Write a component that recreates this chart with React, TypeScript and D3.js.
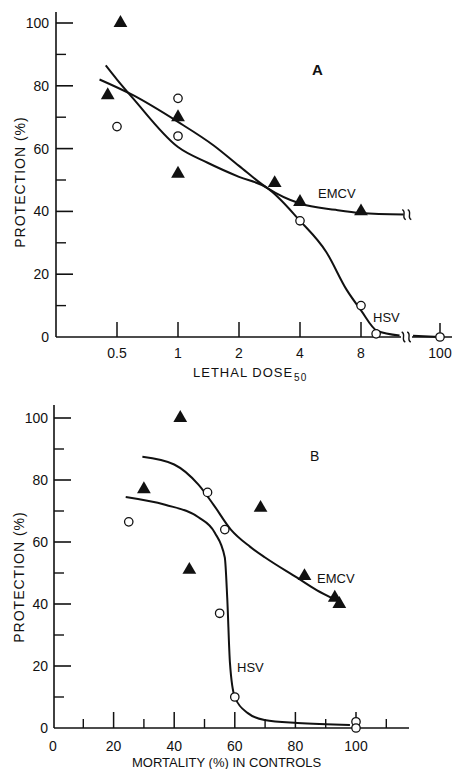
import React from 'react';
import * as d3 from 'd3';

// ---------- Panel A data ----------
const aYTicks = [0, 20, 40, 60, 80, 100];
const aYMinor = [10, 30, 50, 70, 90];
const aXTicks = [0.5, 1, 2, 4, 8];
const aXTickLabels = ['0.5', '1', '2', '4', '8'];
const aXBreakTick = 100;
const aXBreakLabel = '100';

const aEmcvDose = [0.45, 0.52, 1, 1, 3, 4, 8];
const aEmcvProt = [77, 100, 70, 52, 49, 43, 40];
const aHsvDose = [0.5, 1, 1, 4, 8, 9.5, 100];
const aHsvProt = [67, 76, 64, 37, 10, 1, 0];

const aEmcvFitDose = [0.41, 0.6, 1, 1.5, 2, 2.75, 4, 6, 8, 13];
const aEmcvFitProt = [82, 77, 68.5, 61, 54.5, 47.5, 42.5, 40.5, 39.5, 39];
const aHsvFitDose = [0.44, 0.5, 0.6, 1, 1.4, 2, 2.75, 4, 5.4, 6.8, 8, 9.6, 12.4];
const aHsvFitProt = [86.5, 82, 76, 60.5, 55.5, 51, 47.5, 37, 27, 15, 8.5, 2, 0.5];
const aHsvFit2Dose = [16, 100];
const aHsvFit2Prot = [0.4, 0];

// ---------- Panel B data ----------
const bYTicks = [0, 20, 40, 60, 80, 100];
const bYMinor = [10, 30, 50, 70, 90];
const bXTicks = [0, 20, 40, 60, 80, 100];
const bXMinor = [10, 30, 50, 70, 90, 110];

const bEmcvMort = [30, 42, 45, 68.5, 83, 93, 94.5];
const bEmcvProt = [77, 100, 51, 71, 49, 42, 40];
const bHsvMort = [25, 51, 56.7, 55, 60, 100, 100];
const bHsvProt = [66.5, 76, 64, 37, 10, 2, 0];

const bEmcvFitMort = [29.5, 40, 48, 53, 58.7, 65, 70, 80.7, 87, 93];
const bEmcvFitProt = [87.5, 85, 78.5, 72, 64, 58.5, 55, 48.4, 44.5, 41.5];
const bHsvFitMort = [24, 37, 48, 53.4, 56.7, 57.5, 58.4, 60, 64.3, 69.8, 80.7, 98];
const bHsvFitProt = [74.5, 72, 68, 63, 55, 42, 21, 10, 4.8, 2.6, 1.6, 1];

const FONT = '"Liberation Sans", Arial, sans-serif';

const tri = d3.symbol().type(d3.symbolTriangle).size(82)();

function breakMark(cx: number, cy: number) {
  const p = d3.path();
  p.moveTo(cx - 1.8, cy - 5);
  p.bezierCurveTo(cx + 3, cy - 3, cx - 3, cy + 3, cx + 1.8, cy + 5);
  return p.toString();
}

export default function App() {
  // Panel A scales
  const yA = d3.scaleLinear().domain([0, 100]).range([337, 23]);
  const xA = d3.scaleLog().base(2).domain([1, 8]).range([178, 361]);
  const xA2 = d3.scaleLog().domain([16, 100]).range([413, 440]);
  const fxA = (d: number) => (d > 14 ? xA2(d) : xA(d));

  // Panel B scales
  const yB = d3.scaleLinear().domain([0, 100]).range([728, 418]);
  const xB = d3.scaleLinear().domain([0, 100]).range([53, 356]);

  const curve = d3.curveMonotoneX;

  const mkLine = (xs: number[], ys: number[], fx: (v: number) => number, fy: (v: number) => number) =>
    d3
      .line<[number, number]>()
      .x((d) => fx(d[0]))
      .y((d) => fy(d[1]))
      .curve(curve)(xs.map((x, i) => [x, ys[i]] as [number, number])) || '';

  const aEmcvPath = mkLine(aEmcvFitDose, aEmcvFitProt, fxA, yA);
  const aHsvPath = mkLine(aHsvFitDose, aHsvFitProt, fxA, yA);
  const aHsvPath2 = mkLine(aHsvFit2Dose, aHsvFit2Prot, fxA, yA);
  const bEmcvPath = mkLine(bEmcvFitMort, bEmcvFitProt, xB, yB);
  const bHsvPath = mkLine(bHsvFitMort, bHsvFitProt, xB, yB);

  const txt = { fontFamily: FONT, fill: '#111' } as const;
  const stroke = '#111';

  return (
    <svg
      width={454}
      height={769}
      style={{ position: 'absolute', left: 0, top: 0, background: '#fff' }}
    >
      {/* ================= Panel A ================= */}
      <g>
        <line x1={56} x2={56} y1={12} y2={yA(0)} stroke={stroke} strokeWidth={1.6} />
        {aYTicks.map((t) => (
          <g key={'ay' + t}>
            {t > 0 && <line x1={56} x2={73} y1={yA(t)} y2={yA(t)} stroke={stroke} strokeWidth={1.6} />}
            <text x={49} y={yA(t) + 5} textAnchor="end" fontSize={14} {...txt}>
              {t}
            </text>
          </g>
        ))}
        {aYMinor.map((t) => (
          <line key={'aym' + t} x1={56} x2={66} y1={yA(t)} y2={yA(t)} stroke={stroke} strokeWidth={1.4} />
        ))}
        <line x1={56} x2={401} y1={yA(0)} y2={yA(0)} stroke={stroke} strokeWidth={1.6} />
        <line x1={412} x2={452} y1={yA(0)} y2={yA(0)} stroke={stroke} strokeWidth={1.6} />
        <path d={breakMark(403.5, yA(0))} fill="none" stroke={stroke} strokeWidth={1.4} />
        <path d={breakMark(409, yA(0))} fill="none" stroke={stroke} strokeWidth={1.4} />
        {aXTicks.map((t, i) => (
          <g key={'ax' + t}>
            <line x1={fxA(t)} x2={fxA(t)} y1={yA(0)} y2={yA(0) - 15} stroke={stroke} strokeWidth={1.5} />
            <text x={fxA(t)} y={358} textAnchor="middle" fontSize={14} {...txt}>
              {aXTickLabels[i]}
            </text>
          </g>
        ))}
        <line x1={fxA(aXBreakTick)} x2={fxA(aXBreakTick)} y1={yA(0)} y2={yA(0) - 14} stroke={stroke} strokeWidth={1.5} />
        <text x={fxA(aXBreakTick)} y={358} textAnchor="middle" fontSize={14} {...txt}>
          {aXBreakLabel}
        </text>
        <text x={193} y={377} fontSize={13} letterSpacing={1} {...txt}>
          LETHAL DOSE
          <tspan fontSize={10} dy={4} dx={1}>
            50
          </tspan>
        </text>
        <text
          transform={`translate(25, 182) rotate(-90)`}
          textAnchor="middle"
          fontSize={14}
          letterSpacing={1}
          {...txt}
        >
          PROTECTION (%)
        </text>
        <text x={312} y={75} fontSize={15} fontWeight="bold" {...txt}>
          A
        </text>
        <text x={318} y={198} fontSize={13} {...txt}>
          EMCV
        </text>
        <text x={373} y={322} fontSize={13} {...txt}>
          HSV
        </text>
        <path d={aEmcvPath} fill="none" stroke={stroke} strokeWidth={2} />
        <path d={aHsvPath} fill="none" stroke={stroke} strokeWidth={2} />
        <path d={aHsvPath2} fill="none" stroke={stroke} strokeWidth={2} />
        <path d={breakMark(404, yA(39))} fill="none" stroke={stroke} strokeWidth={1.4} />
        <path d={breakMark(409.5, yA(39))} fill="none" stroke={stroke} strokeWidth={1.4} />
        {aHsvDose.map((d, i) => (
          <circle key={'ah' + i} cx={fxA(d)} cy={yA(aHsvProt[i])} r={4.2} fill="#fff" stroke={stroke} strokeWidth={1.3} />
        ))}
        {aEmcvDose.map((d, i) => (
          <path key={'ae' + i} d={tri!} transform={`translate(${fxA(d)},${yA(aEmcvProt[i])})`} fill={stroke} />
        ))}
      </g>

      {/* ================= Panel B ================= */}
      <g>
        <line x1={54} x2={54} y1={405} y2={yB(0)} stroke={stroke} strokeWidth={1.6} />
        {bYTicks.map((t) => (
          <g key={'by' + t}>
            {t > 0 && <line x1={54} x2={71} y1={yB(t)} y2={yB(t)} stroke={stroke} strokeWidth={1.6} />}
            <text x={48} y={yB(t) + 5} textAnchor="end" fontSize={14} {...txt}>
              {t}
            </text>
          </g>
        ))}
        {bYMinor.map((t) => (
          <line key={'bym' + t} x1={54} x2={64} y1={yB(t)} y2={yB(t)} stroke={stroke} strokeWidth={1.4} />
        ))}
        <line x1={54} x2={409} y1={yB(0)} y2={yB(0)} stroke={stroke} strokeWidth={1.6} />
        {bXTicks.map((t) => (
          <g key={'bx' + t}>
            {t > 0 && <line x1={xB(t)} x2={xB(t)} y1={yB(0)} y2={yB(0) - 16} stroke={stroke} strokeWidth={1.5} />}
            <text x={xB(t)} y={751} textAnchor="middle" fontSize={14} {...txt}>
              {t}
            </text>
          </g>
        ))}
        {bXMinor.map((t) => (
          <line key={'bxm' + t} x1={xB(t)} x2={xB(t)} y1={yB(0)} y2={yB(0) - 9} stroke={stroke} strokeWidth={1.4} />
        ))}
        <text x={132} y={767} fontSize={13} {...txt}>
          MORTALITY (%) IN CONTROLS
        </text>
        <text
          transform={`translate(24, 577) rotate(-90)`}
          textAnchor="middle"
          fontSize={14}
          letterSpacing={1}
          {...txt}
        >
          PROTECTION (%)
        </text>
        <text x={310} y={461} fontSize={14} {...txt}>
          B
        </text>
        <text x={317} y={583} fontSize={13} {...txt}>
          EMCV
        </text>
        <text x={237} y={672} fontSize={13} {...txt}>
          HSV
        </text>
        <path d={bEmcvPath} fill="none" stroke={stroke} strokeWidth={2} />
        <path d={bHsvPath} fill="none" stroke={stroke} strokeWidth={2} />
        {bHsvMort.map((d, i) => (
          <circle key={'bh' + i} cx={xB(d)} cy={yB(bHsvProt[i])} r={4.2} fill="#fff" stroke={stroke} strokeWidth={1.3} />
        ))}
        {bEmcvMort.map((d, i) => (
          <path key={'be' + i} d={tri!} transform={`translate(${xB(d)},${yB(bEmcvProt[i])})`} fill={stroke} />
        ))}
      </g>
    </svg>
  );
}
